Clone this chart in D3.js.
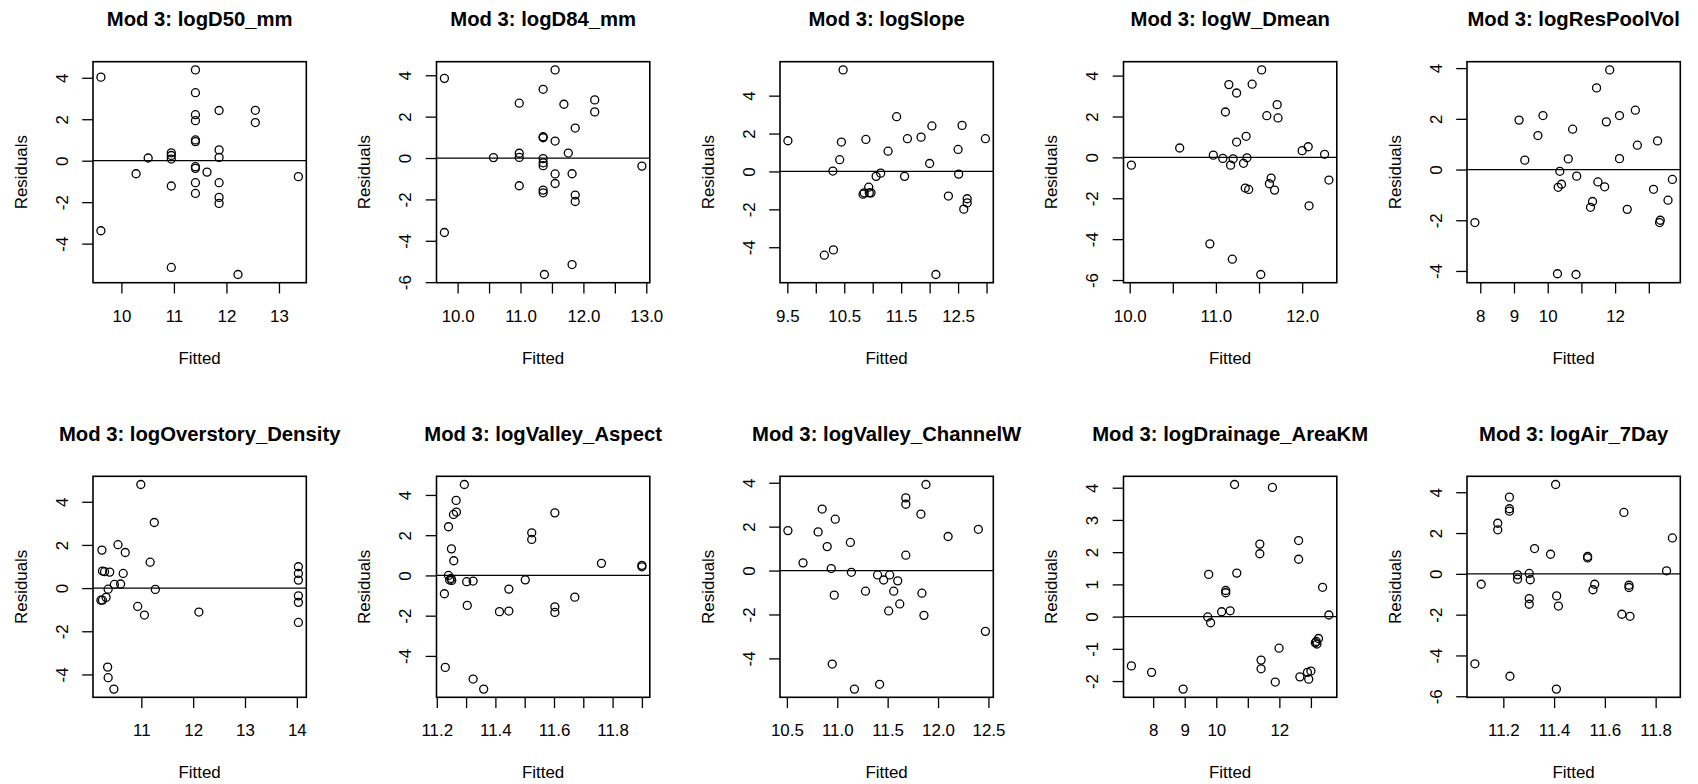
<!DOCTYPE html>
<html>
<head>
<meta charset="utf-8">
<script src="https://cdn.jsdelivr.net/npm/d3@7"></script>
<style>
  body { margin: 0; background: #fff; }
  svg { display: block; font-family: "Liberation Sans", Arial, Helvetica, sans-serif; }
</style>
</head>
<body>
<svg id="chart" width="1698" height="784"></svg>
<script>
// residuals vs fitted, one panel per predictor ([fitted, residual])
const titles = ["Mod 3: logD50_mm", "Mod 3: logD84_mm", "Mod 3: logSlope", "Mod 3: logW_Dmean", "Mod 3: logResPoolVol",
  "Mod 3: logOverstory_Density", "Mod 3: logValley_Aspect", "Mod 3: logValley_ChannelW", "Mod 3: logDrainage_AreaKM", "Mod 3: logAir_7Day"];

const d50 = [[9.61,4.03],[9.61,-3.38],[10.28,-0.63],[10.51,0.13],[10.95,0.38],[10.95,0.25],[10.95,0.08],[10.95,-1.22],[10.95,-5.15],
  [11.41,4.38],[11.41,3.28],[11.41,2.22],[11.41,1.93],[11.41,1.00],[11.41,0.92],[11.41,-0.29],[11.41,-0.37],[11.41,-1.06],[11.41,-1.58],
  [11.63,-0.55],[11.86,2.42],[11.86,0.52],[11.86,0.16],[11.86,-1.06],[11.86,-1.77],[11.86,-2.06],[12.22,-5.49],[12.55,2.43],[12.55,1.84],[13.37,-0.77]];

const d84 = [[9.79,3.85],[9.79,-3.60],[10.57,0.02],[10.98,0.23],[10.98,0.03],[10.98,2.65],[10.98,-1.34],[11.36,3.32],[11.36,1.03],[11.36,0.98],
  [11.36,-0.03],[11.36,-0.23],[11.36,-0.37],[11.36,-1.55],[11.36,-1.68],[11.38,-5.63],[11.55,4.26],[11.55,0.82],[11.55,-0.77],[11.55,-1.23],
  [11.69,2.60],[11.76,0.24],[11.82,-0.76],[11.82,-5.15],[11.87,1.45],[11.87,-1.79],[11.87,-2.10],[12.18,2.81],[12.18,2.23],[12.93,-0.39]];

const slope = [[9.51,1.62],[10.15,-4.42],[10.31,-4.14],[10.30,0.02],[10.42,0.62],[10.45,1.55],[10.48,5.36],[10.88,1.69],[10.83,-1.20],[10.85,-1.13],
  [10.93,-0.83],[10.94,-1.13],[10.97,-1.13],[11.06,-0.26],[11.14,-0.09],[11.27,1.07],[11.42,2.89],[11.56,-0.26],[11.61,1.73],[11.85,1.81],
  [12.00,0.42],[12.04,2.40],[12.11,-5.44],[12.33,-1.30],[12.50,1.16],[12.51,-0.14],[12.57,2.43],[12.60,-1.99],[12.66,-1.44],[12.66,-1.66],[12.98,1.73]];

const wDmean = [[10.02,-0.38],[10.58,0.46],[10.93,-4.23],[10.97,0.11],[11.08,-0.05],[11.11,2.22],[11.15,3.56],[11.17,-0.38],[11.19,-4.98],[11.20,-0.07],
  [11.24,3.15],[11.24,0.75],[11.32,-0.29],[11.34,-1.50],[11.35,1.03],[11.36,-0.02],[11.38,-1.57],[11.42,3.58],[11.52,-5.73],[11.53,4.28],
  [11.59,2.04],[11.62,-1.29],[11.64,-1.01],[11.68,-1.60],[11.71,2.58],[11.72,1.93],[12.00,0.33],[12.07,0.52],[12.08,-2.37],[12.26,0.15],[12.31,-1.11]];

const resPool = [[7.84,-2.09],[9.15,1.95],[9.32,0.37],[9.71,1.34],[9.86,2.13],[10.29,-4.11],[10.31,-0.70],[10.36,-0.07],[10.41,-0.58],[10.61,0.42],
  [10.74,1.59],[10.86,-0.26],[10.84,-4.14],[11.27,-1.49],[11.33,-1.26],[11.45,3.22],[11.49,-0.49],[11.69,-0.68],[11.74,1.88],[11.84,3.93],
  [12.13,0.43],[12.13,2.13],[12.36,-1.57],[12.60,2.34],[12.66,0.96],[13.14,-0.78],[13.26,1.13],[13.32,-2.09],[13.34,-2.00],[13.57,-1.21],[13.70,-0.39]];

const overstory = [[10.24,1.76],[10.25,0.79],[10.29,0.76],[10.39,0.74],[10.22,-0.56],[10.25,-0.56],[10.32,-0.43],[10.36,-0.05],[10.48,0.17],[10.60,0.19],
  [10.55,2.01],[10.65,0.68],[10.69,1.65],[10.35,-3.66],[10.36,-4.15],[10.47,-4.68],[10.93,-0.85],[10.99,4.80],[11.06,-1.25],[11.17,1.20],
  [11.25,3.04],[11.27,-0.06],[12.11,-1.11],[14.03,0.99],[14.03,0.68],[14.03,0.37],[14.03,-0.36],[14.03,-0.66],[14.03,-1.59]];

const aspect = [[11.226,-0.91],[11.229,-4.57],[11.240,2.42],[11.240,0.00],[11.244,-0.23],[11.249,-0.15],[11.251,-0.25],[11.250,1.32],[11.258,0.73],
  [11.257,3.03],[11.267,3.15],[11.266,3.73],[11.294,4.52],[11.302,-0.31],[11.304,-1.49],[11.324,-0.28],[11.324,-5.15],[11.360,-5.65],[11.414,-1.80],
  [11.446,-0.68],[11.446,-1.77],[11.502,-0.22],[11.524,2.12],[11.524,1.79],[11.603,3.11],[11.603,-1.56],[11.603,-1.84],[11.671,-1.08],[11.762,0.60],
  [11.900,0.50],[11.900,0.43]];

const channelW = [[10.51,1.82],[10.66,0.35],[10.81,1.76],[10.85,2.80],[10.90,1.09],[10.94,0.09],[10.95,-4.26],[10.97,-1.12],[10.98,2.34],[11.13,1.28],
  [11.14,-0.08],[11.17,-5.40],[11.28,-0.94],[11.40,-0.20],[11.42,-5.18],[11.46,-0.43],[11.51,-1.84],[11.52,-0.20],[11.56,-0.94],[11.60,-0.47],
  [11.62,-1.52],[11.68,3.31],[11.68,3.02],[11.68,0.70],[11.83,2.57],[11.84,-1.03],[11.86,-2.04],[11.88,3.92],[12.10,1.55],[12.40,1.88],[12.47,-2.77]];

const drainage = [[7.31,-1.53],[7.95,-1.73],[8.95,-2.25],[9.73,-0.01],[9.76,1.31],[9.82,-0.19],[10.17,0.15],[10.30,0.81],[10.30,0.74],[10.44,0.18],
  [10.58,4.10],[10.65,1.35],[11.38,2.25],[11.38,1.95],[11.42,-1.35],[11.42,-1.62],[11.78,4.01],[11.87,-2.03],[11.99,-0.98],[12.61,2.36],
  [12.61,1.78],[12.65,-1.87],[12.93,-1.94],[12.89,-1.73],[13.00,-1.69],[13.14,-0.81],[13.19,-0.85],[13.24,-0.68],[13.17,-0.77],[13.37,0.91],[13.57,0.05]];

const air7 = [[11.088,-4.41],[11.113,-0.51],[11.178,2.48],[11.178,2.16],[11.224,3.76],[11.224,3.19],[11.224,3.07],[11.226,-5.02],[11.256,-0.05],
  [11.256,-0.26],[11.302,0.02],[11.306,-0.29],[11.302,-1.21],[11.302,-1.49],[11.323,1.24],[11.386,0.96],[11.406,4.38],[11.409,-5.65],[11.410,-1.08],
  [11.417,-1.58],[11.532,0.85],[11.532,0.78],[11.553,-0.78],[11.560,-0.51],[11.667,-1.98],[11.675,3.01],[11.695,-0.56],[11.695,-0.67],[11.699,-2.08],
  [11.843,0.15],[11.866,1.76]];

// x ticks and the labels R actually printed (blank = skipped for overlap)
const xTicks = [[10,11,12,13], [10,10.5,11,11.5,12,12.5,13], [9.5,10,10.5,11,11.5,12,12.5,13], [10,10.5,11,11.5,12], [8,9,10,11,12,13],
  [11,12,13,14], [11.2,11.3,11.4,11.5,11.6,11.7,11.8,11.9], [10.5,11,11.5,12,12.5], [8,9,10,11,12,13], [11.2,11.4,11.6,11.8]];
const xLabels = [["10","11","12","13"], ["10.0","","11.0","","12.0","","13.0"], ["9.5","","10.5","","11.5","","12.5",""], ["10.0","","11.0","","12.0"],
  ["8","9","10","","12",""], ["11","12","13","14"], ["11.2","","11.4","","11.6","","11.8",""], ["10.5","11.0","11.5","12.0","12.5"],
  ["8","9","10","","12",""], ["11.2","11.4","11.6","11.8"]];
const yTicks = [[-4,-2,0,2,4], [-6,-4,-2,0,2,4], [-4,-2,0,2,4], [-6,-4,-2,0,2,4], [-4,-2,0,2,4],
  [-4,-2,0,2,4], [-4,-2,0,2,4], [-4,-2,0,2,4], [-2,-1,0,1,2,3,4], [-6,-4,-2,0,2,4]];

const series = [d50, d84, slope, wDmean, resPool, overstory, aspect, channelW, drainage, air7];

// layout (R mfrow = c(2,5))
const boxW = 213.3, boxH = 221;
const left0 = 93, top0 = 61.7, colStep = 343.5, rowStep = 414.6;
const fs = 16.9, tickLen = 10.8;

const svg = d3.select("#chart");

// R-style axis range: data range padded by 4% each side
function rRange(vals) {
  const [lo, hi] = d3.extent(vals);
  const pad = (hi - lo) * 0.04;
  return [lo - pad, hi + pad];
}

series.forEach((pts, i) => {
  const col = i % 5, row = Math.floor(i / 5);
  const g = svg.append("g")
    .attr("transform", `translate(${left0 + col * colStep},${top0 + row * rowStep})`);

  const x = d3.scaleLinear().domain(rRange(pts.map(d => d[0]))).range([0, boxW]);
  const y = d3.scaleLinear().domain(rRange(pts.map(d => d[1]))).range([boxH, 0]);

  // x axis
  const xa = g.append("g")
    .attr("transform", `translate(0,${boxH})`)
    .call(d3.axisBottom(x).tickValues(xTicks[i]).tickFormat((d, j) => xLabels[i][j])
      .tickSize(tickLen).tickSizeOuter(0).tickPadding(39 - tickLen - 0.71 * fs));
  xa.select(".domain").remove();
  xa.attr("font-size", null).attr("font-family", null);
  xa.selectAll("line").attr("stroke", "#000").attr("stroke-width", 1.3);
  xa.selectAll("text").attr("fill", "#000").style("font-size", fs + "px");

  // y axis, labels parallel to the axis
  const ya = g.append("g")
    .call(d3.axisLeft(y).tickValues(yTicks[i]).tickFormat(d3.format("d")).tickSize(tickLen).tickSizeOuter(0));
  ya.select(".domain").remove();
  ya.attr("font-size", null).attr("font-family", null);
  ya.selectAll("line").attr("stroke", "#000").attr("stroke-width", 1.3);
  ya.selectAll("text")
    .attr("fill", "#000").style("font-size", fs + "px")
    .attr("x", 0).attr("y", -25.5).attr("dy", null)
    .attr("text-anchor", "middle")
    .attr("transform", "rotate(-90)")
    .text(d => d < 0 ? "-" + Math.abs(d) : d);

  // zero line
  g.append("line")
    .attr("x1", 0).attr("x2", boxW)
    .attr("y1", y(0)).attr("y2", y(0))
    .attr("stroke", "#000").attr("stroke-width", 1.3);

  // points
  g.selectAll("circle").data(pts).enter().append("circle")
    .attr("cx", d => x(d[0]))
    .attr("cy", d => y(d[1]))
    .attr("r", 4)
    .attr("fill", "none")
    .attr("stroke", "#000")
    .attr("stroke-width", 1.3);

  // box
  g.append("rect")
    .attr("width", boxW).attr("height", boxH)
    .attr("fill", "none").attr("stroke", "#000").attr("stroke-width", 1.6);

  // titles and axis labels
  g.append("text")
    .attr("x", boxW / 2).attr("y", -35.5)
    .attr("text-anchor", "middle")
    .style("font-size", (fs * 1.2) + "px").style("font-weight", "bold")
    .text(titles[i]);

  g.append("text")
    .attr("x", boxW / 2).attr("y", boxH + 81)
    .attr("text-anchor", "middle")
    .style("font-size", fs + "px")
    .text("Fitted");

  g.append("text")
    .attr("transform", `translate(-66.5,${boxH / 2}) rotate(-90)`)
    .attr("text-anchor", "middle")
    .style("font-size", fs + "px")
    .text("Residuals");
});
</script>
</body>
</html>
